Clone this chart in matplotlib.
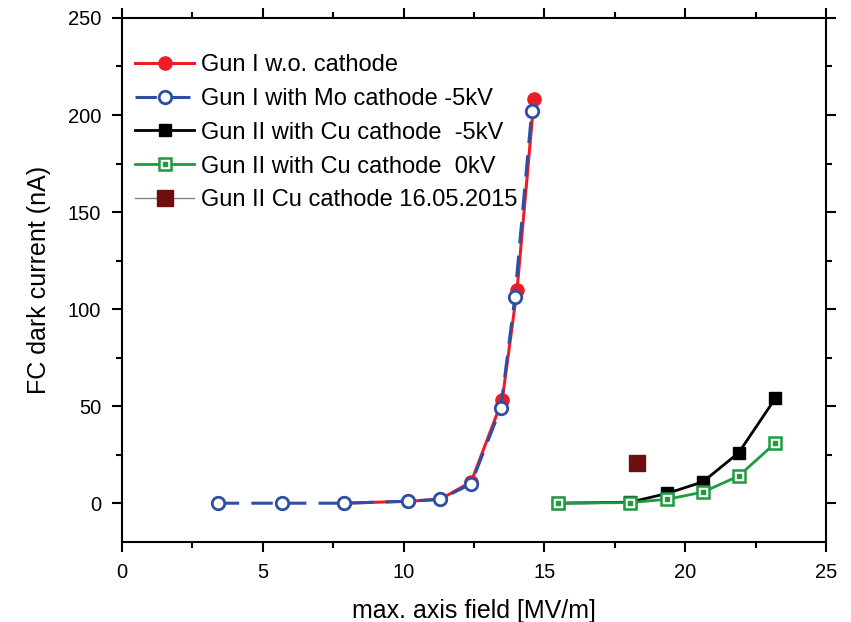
import matplotlib
matplotlib.use('Agg')
import matplotlib.pyplot as plt
from matplotlib.ticker import MultipleLocator
from matplotlib.legend_handler import HandlerTuple

plt.rcParams['font.family'] = ['Liberation Sans', 'DejaVu Sans']

# Gun I without cathode
x_gun1 = [7.9, 10.15, 11.3, 12.4, 13.5, 14.03, 14.63]
y_gun1 = [0, 1, 2, 11, 53, 110, 208]
# Gun I with Mo cathode -5kV
x_mo = [3.4, 5.68, 7.9, 10.15, 11.3, 12.4, 13.45, 13.95, 14.55]
y_mo = [0, 0, 0, 1, 2, 10, 49, 106, 202]
# Gun II with Cu cathode -5kV
x_cu5 = [15.48, 18.04, 19.35, 20.63, 21.9, 23.2]
y_cu5 = [0, 0.5, 5, 11, 26, 54]
# Gun II with Cu cathode 0kV
x_cu0 = [15.48, 18.04, 19.35, 20.63, 21.9, 23.2]
y_cu0 = [0, 0.3, 2, 5.7, 14, 31]
# Gun II Cu cathode 16.05.2015
x_single = [18.3]
y_single = [20.6]

labels = ['Gun I w.o. cathode', 'Gun I with Mo cathode -5kV',
          'Gun II with Cu cathode  -5kV', 'Gun II with Cu cathode  0kV',
          'Gun II Cu cathode 16.05.2015']

fig = plt.figure(figsize=(8.51, 6.22), dpi=100)
ax = fig.add_axes([0.1434, 0.1286, 0.8272, 0.8425])

red = '#ee1c25'
blue = '#2c4ea3'
green = '#1f9a3e'
darkred = '#6e0e0e'

l1, = ax.plot(x_gun1, y_gun1, '-', color=red, lw=2.2, marker='o', ms=9.5,
              mfc=red, mec=red)
l2, = ax.plot(x_mo, y_mo, color=blue, lw=2.2, ls=(0, (7, 4)), marker='o', ms=9,
              mfc='white', mec=blue, mew=2)
l3, = ax.plot(x_cu5, y_cu5, '-', color='black', lw=2, marker='s', ms=8,
              mfc='black', mec='black')
l4, = ax.plot(x_cu0, y_cu0, '-', color=green, lw=2, marker='s', ms=8,
              mfc='white', mec=green, mew=1.8)
l4d, = ax.plot(x_cu0, y_cu0, ls='none', marker='s', ms=2.2, color=green)
l5, = ax.plot(x_single, y_single, ls='none', marker='s', ms=11,
              mfc=darkred, mec=darkred)
l5h, = ax.plot([], [], '-', color='#808080', lw=1, marker='s', ms=11,
               mfc=darkred, mec=darkred)

ax.set_xlim(0, 25)
ax.set_ylim(-20, 250)
ax.xaxis.set_major_locator(MultipleLocator(5))
ax.xaxis.set_minor_locator(MultipleLocator(2.5))
ax.yaxis.set_major_locator(MultipleLocator(50))
ax.yaxis.set_minor_locator(MultipleLocator(25))
ax.tick_params(which='both', direction='in', top=True, right=True,
               labeltop=False, labelright=False, width=1.5)
ax.tick_params(which='major', length=7, labelsize=14.5, pad=8)
ax.tick_params(which='minor', length=4)
ax.tick_params(axis='y', which='both', left=True, direction='out')
ax.tick_params(axis='x', which='both', bottom=True, direction='out')
for s in ax.spines.values():
    s.set_linewidth(1.5)

ax.set_xlabel('max. axis field [MV/m]', fontsize=18, labelpad=12)
ax.set_ylabel('FC dark current (nA)', fontsize=18, labelpad=12)

ax.legend([l1, l2, l3, (l4, l4d), l5h], labels,
          handler_map={tuple: HandlerTuple(ndivide=1, pad=0)},
          loc='upper left', bbox_to_anchor=(0.005, 0.949), frameon=False,
          fontsize=17, handlelength=2.5, labelspacing=0.5, handletextpad=0.3,
          borderaxespad=0)

fig.savefig('out.png', dpi=100)
